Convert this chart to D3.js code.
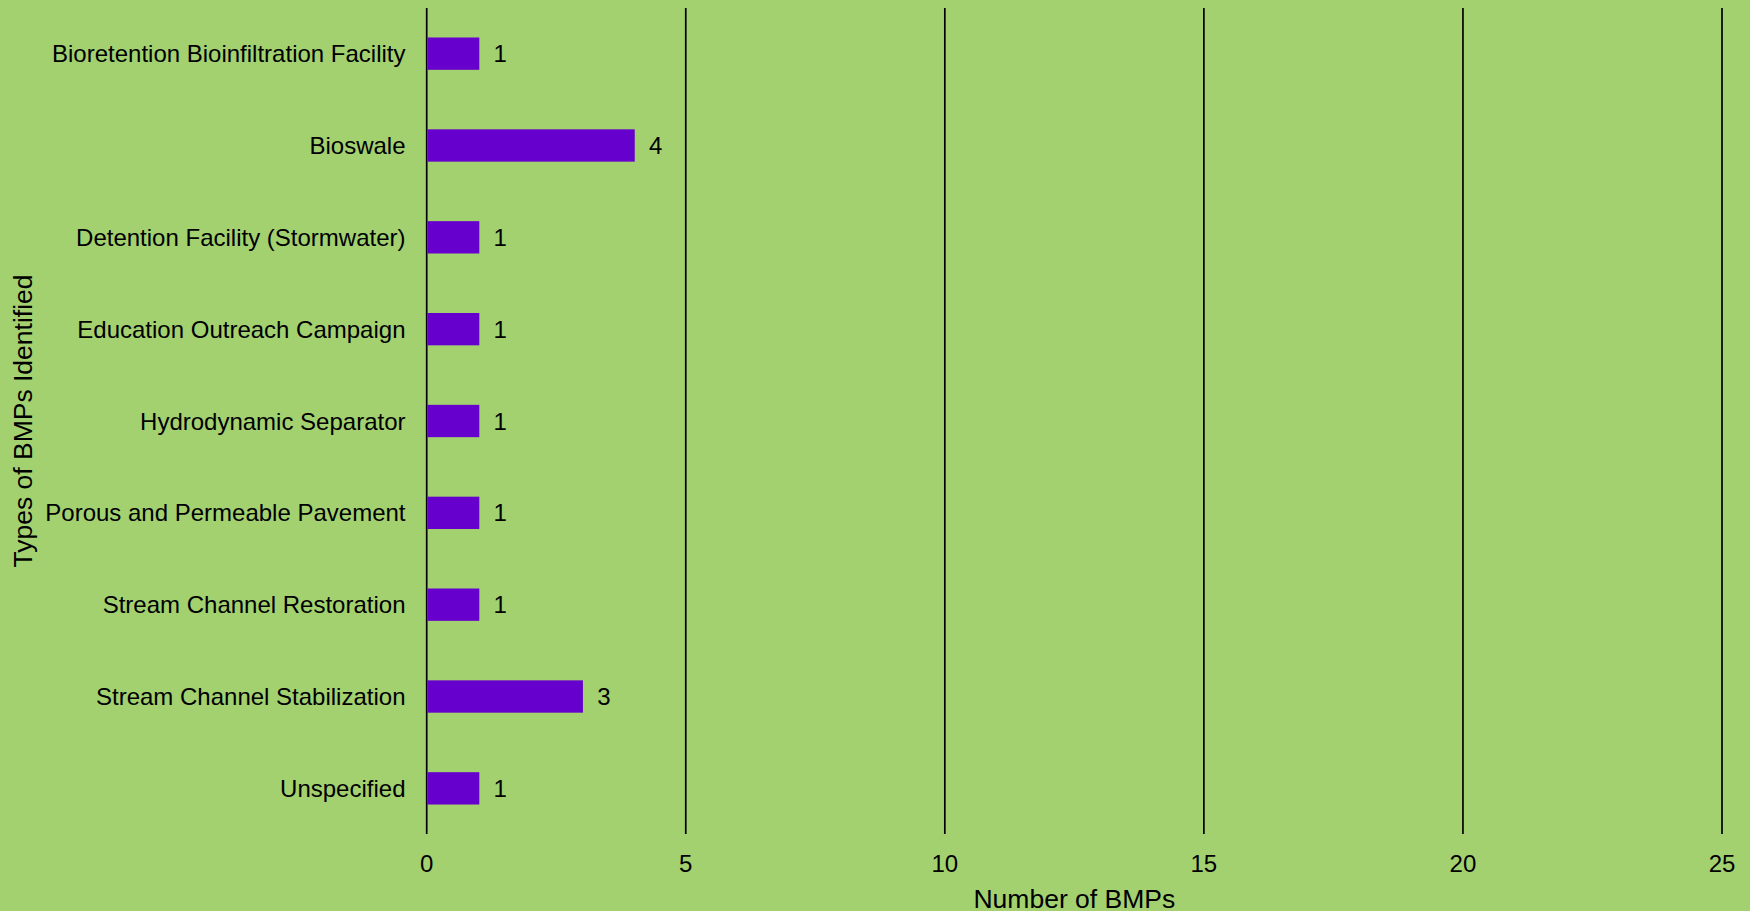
<!DOCTYPE html>
<html>
<head>
<meta charset="utf-8">
<script src="https://cdn.jsdelivr.net/npm/d3@7"></script>
<style>
  html, body { margin: 0; padding: 0; background: #a3d170; }
  svg { display: block; font-family: "Liberation Sans", Arial, sans-serif; }
</style>
</head>
<body>
<div id="chart"></div>
<script>
// Data
const categories = [
  "Bioretention Bioinfiltration Facility",
  "Bioswale",
  "Detention Facility (Stormwater)",
  "Education Outreach Campaign",
  "Hydrodynamic Separator",
  "Porous and Permeable Pavement",
  "Stream Channel Restoration",
  "Stream Channel Stabilization",
  "Unspecified"
];
const counts = [1, 4, 1, 1, 1, 1, 1, 3, 1];
const xTicks = [0, 5, 10, 15, 20, 25];

const W = 1750, H = 911;
const plotLeft = 426.7, plotRight = 1722, plotTop = 8, plotBottom = 834;

const svg = d3.select("#chart").append("svg")
  .attr("width", W)
  .attr("height", H);

svg.append("rect")
  .attr("width", W)
  .attr("height", H)
  .attr("fill", "#a3d170");

const x = d3.scaleLinear().domain([0, 25]).range([plotLeft, plotRight]);
const y = d3.scaleBand()
  .domain(categories)
  .range([plotTop, plotBottom])
  .paddingInner(0.648)
  .paddingOuter(0.321);

// Vertical grid lines
svg.append("g").selectAll("line")
  .data(xTicks)
  .enter().append("line")
  .attr("x1", d => x(d))
  .attr("x2", d => x(d))
  .attr("y1", plotTop)
  .attr("y2", plotBottom)
  .attr("stroke", "#000")
  .attr("stroke-width", 1.7);

// Bars
const rows = categories.map((c, i) => ({ cat: c, v: counts[i] }));

svg.append("g").selectAll("rect")
  .data(rows)
  .enter().append("rect")
  .attr("x", x(0) + 0.8)
  .attr("y", d => y(d.cat))
  .attr("width", d => x(d.v) - x(0))
  .attr("height", y.bandwidth())
  .attr("fill", "#6600cc");

// Value labels
svg.append("g").selectAll("text")
  .data(rows)
  .enter().append("text")
  .attr("x", d => x(d.v) + 15)
  .attr("y", d => y(d.cat) + y.bandwidth() / 2)
  .attr("dominant-baseline", "central")
  .attr("font-size", "24px")
  .attr("fill", "#000")
  .text(d => d.v);

// Category labels
svg.append("g").selectAll("text")
  .data(categories)
  .enter().append("text")
  .attr("x", 405.5)
  .attr("y", d => y(d) + y.bandwidth() / 2)
  .attr("text-anchor", "end")
  .attr("dominant-baseline", "central")
  .attr("font-size", "24px")
  .attr("fill", "#000")
  .text(d => d);

// X tick labels
svg.append("g").selectAll("text")
  .data(xTicks)
  .enter().append("text")
  .attr("x", d => x(d))
  .attr("y", 863)
  .attr("text-anchor", "middle")
  .attr("dominant-baseline", "central")
  .attr("font-size", "24px")
  .attr("fill", "#000")
  .text(d => d);

// Axis titles
svg.append("text")
  .attr("x", (plotLeft + plotRight) / 2)
  .attr("y", 899)
  .attr("text-anchor", "middle")
  .attr("dominant-baseline", "central")
  .attr("font-size", "26.5px")
  .text("Number of BMPs");

svg.append("text")
  .attr("transform", `translate(23, ${(plotTop + plotBottom) / 2}) rotate(-90)`)
  .attr("text-anchor", "middle")
  .attr("dominant-baseline", "central")
  .attr("font-size", "26.5px")
  .text("Types of BMPs Identified");
</script>
</body>
</html>
